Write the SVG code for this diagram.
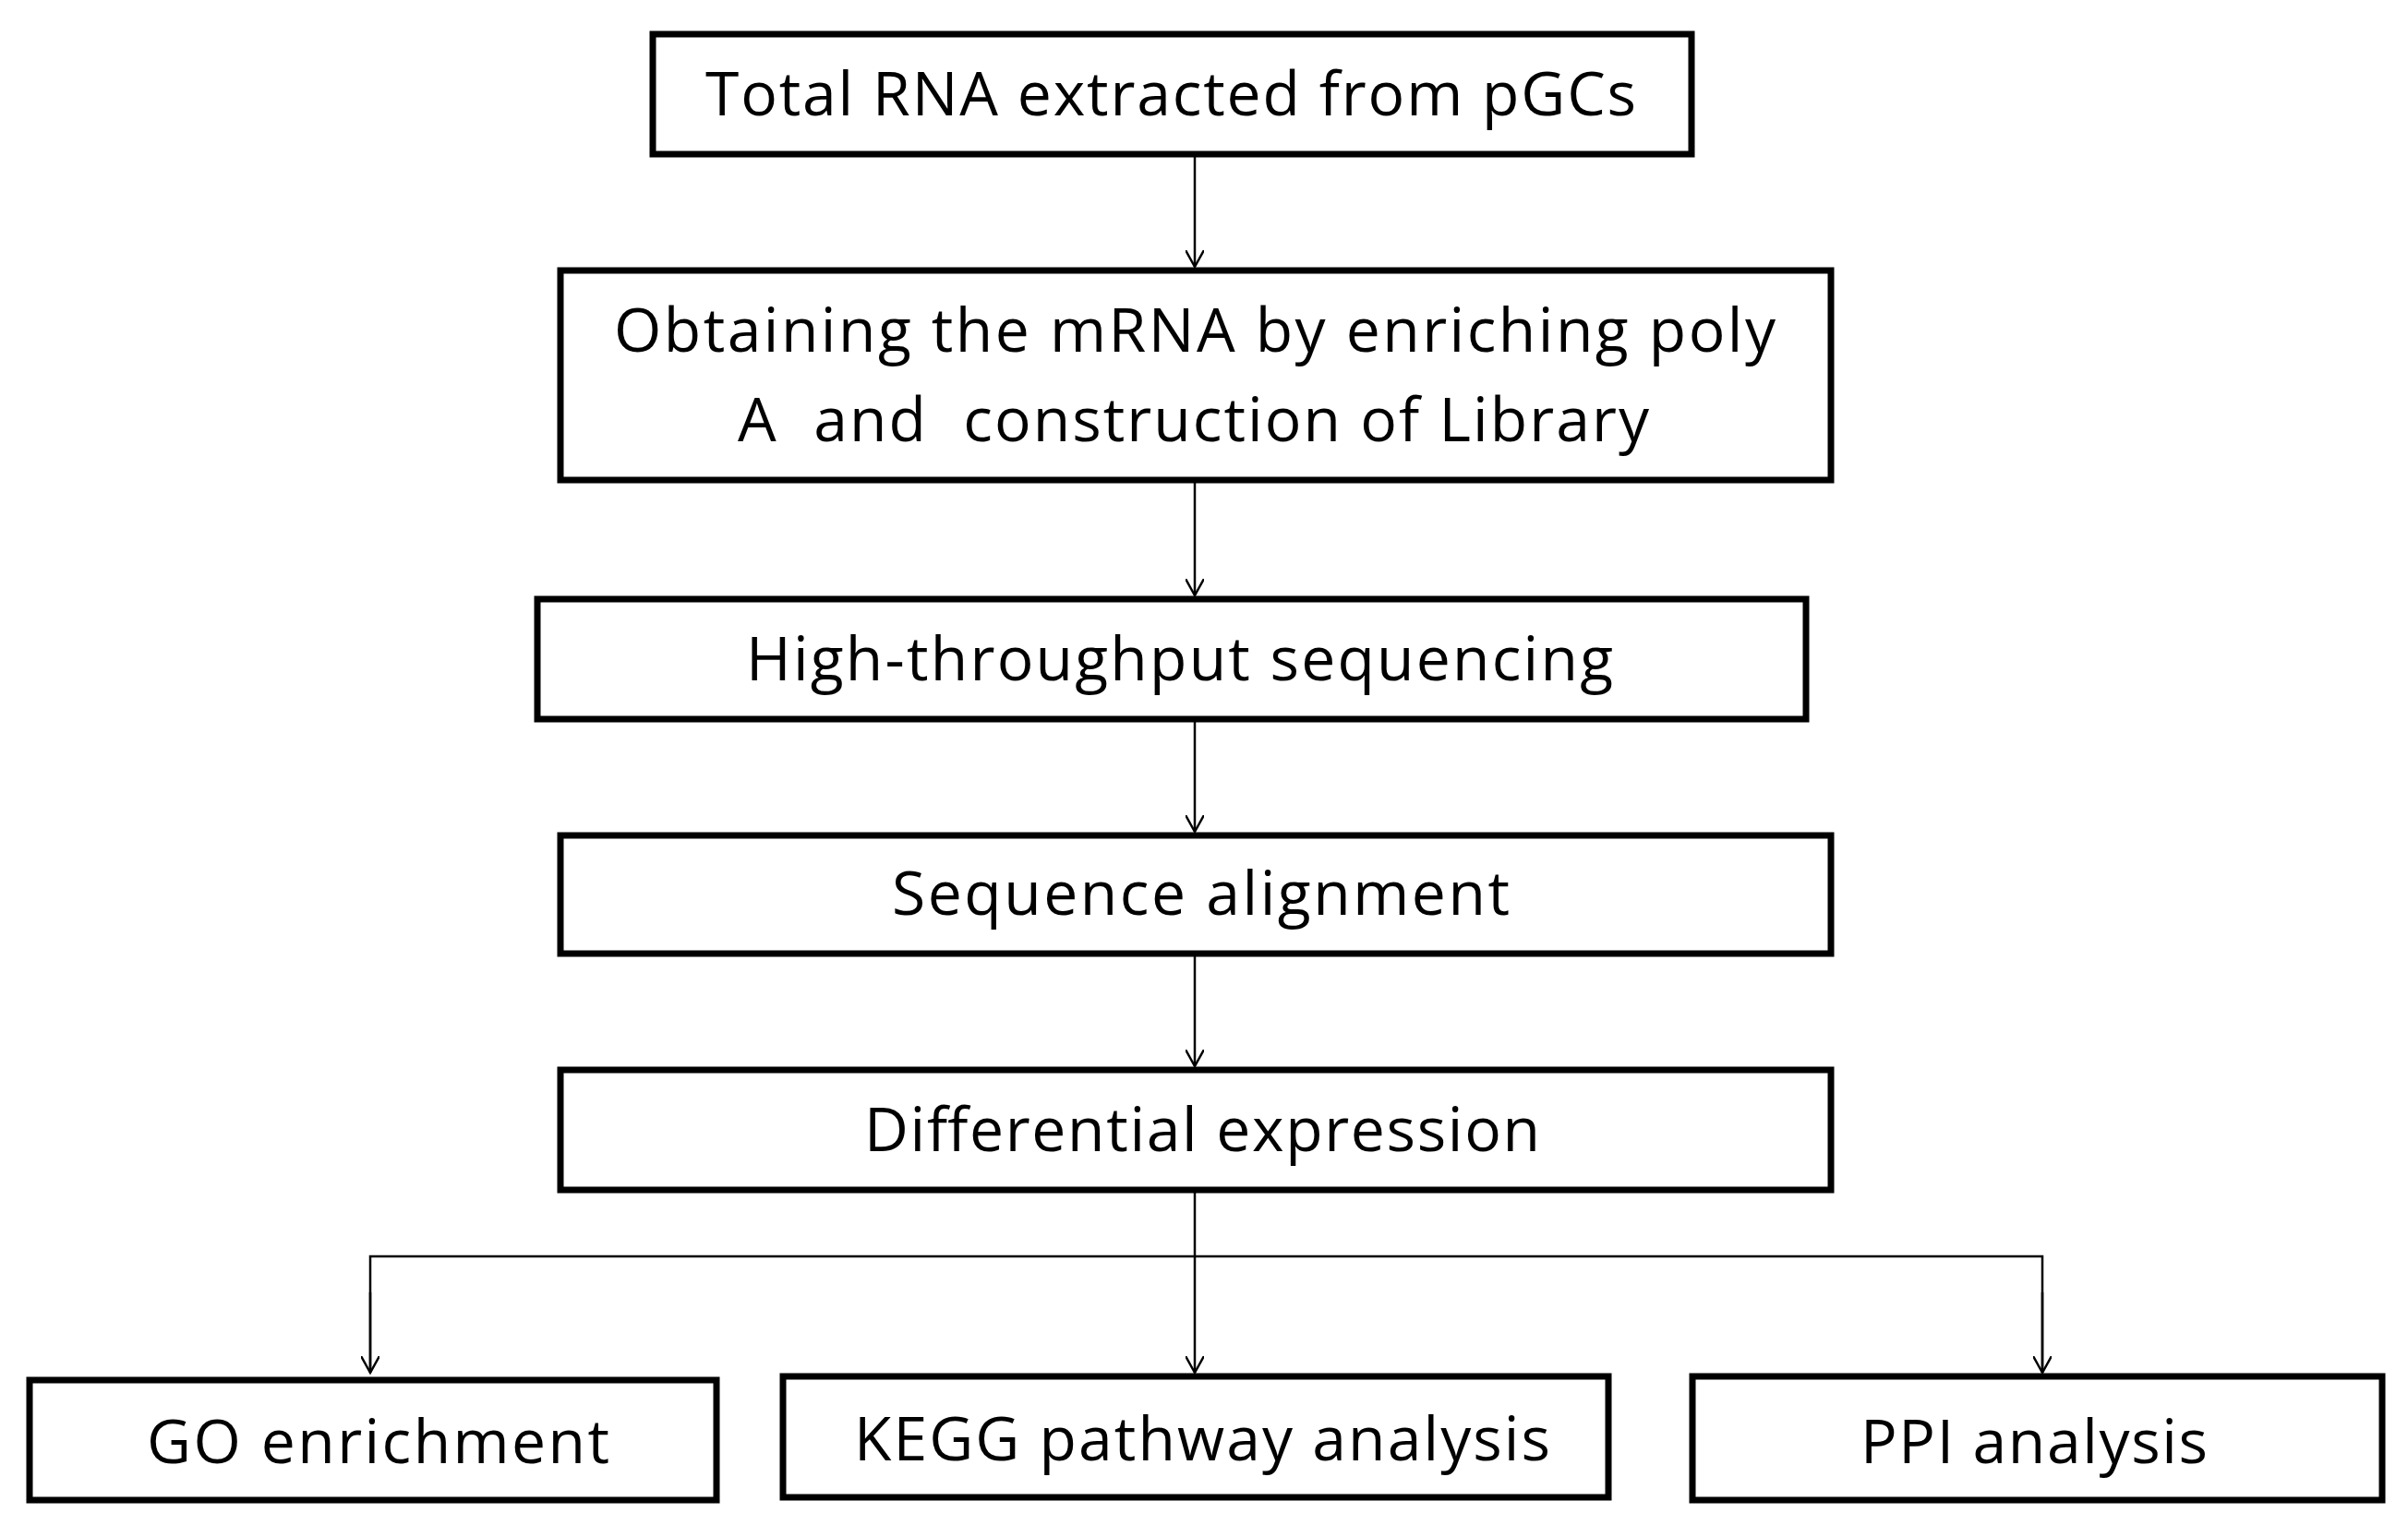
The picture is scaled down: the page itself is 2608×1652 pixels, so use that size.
<svg xmlns="http://www.w3.org/2000/svg" width="2608" height="1652" viewBox="0 0 2608 1652">
<style>
.b{fill:#fff;stroke:#000;stroke-width:7}
.t{font-family:"Open Sans","Liberation Sans",sans-serif;font-size:66px;fill:#000}
.c{fill:none;stroke:#000;stroke-width:2.5}
</style>
<defs><marker id="a" viewBox="0 0 20 20" refX="10" refY="18" markerWidth="20" markerHeight="20" markerUnits="userSpaceOnUse" orient="auto-start-reverse"><path d="M0,0 L10,18 L20,0" fill="none" stroke="#000" stroke-width="2.5"/></marker>
<marker id="d" viewBox="0 0 30 20" refX="18" refY="10" markerWidth="30" markerHeight="20" markerUnits="userSpaceOnUse" orient="auto"><path d="M0,0 L18,10 L0,20" fill="none" stroke="#000" stroke-width="2.5"/></marker></defs>
<rect width="2608" height="1652" fill="#fff"/>
<g id="connectors">
<line class="c" x1="1294" y1="167" x2="1294" y2="289" marker-end="url(#d)"/>
<line class="c" x1="1294" y1="520" x2="1294" y2="645" marker-end="url(#d)"/>
<line class="c" x1="1294" y1="779" x2="1294" y2="901" marker-end="url(#d)"/>
<line class="c" x1="1294" y1="1033" x2="1294" y2="1155" marker-end="url(#d)"/>
<line class="c" x1="1294" y1="1289" x2="1294" y2="1487" marker-end="url(#d)"/>
<path class="c" d="M401,1487 V1361 H2212 V1487" />
<line class="c" x1="401" y1="1400" x2="401" y2="1487" marker-end="url(#d)"/>
<line class="c" x1="2212" y1="1400" x2="2212" y2="1487" marker-end="url(#d)"/>
</g>
<g id="n1"><rect class="b" x="707" y="37" width="1125" height="130"/><text class="t" x="764" y="125" textLength="1008">Total RNA extracted from pGCs</text></g>
<g id="n2"><rect class="b" x="607" y="293" width="1376" height="227"/><text class="t" x="665" y="381" textLength="1258">Obtaining the mRNA by enriching poly</text><text class="t" x="799" y="478" textLength="987" xml:space="preserve">A  and  construction of Library</text></g>
<g id="n3"><rect class="b" x="582" y="649" width="1374" height="130"/><text class="t" x="808" y="737" textLength="939">High-throughput sequencing</text></g>
<g id="n4"><rect class="b" x="607" y="905" width="1376" height="128"/><text class="t" x="966" y="991" textLength="669">Sequence alignment</text></g>
<g id="n5"><rect class="b" x="607" y="1159" width="1376" height="130"/><text class="t" x="936" y="1247" textLength="732">Differential expression</text></g>
<g id="n6"><rect class="b" x="32" y="1495" width="744" height="130"/><text class="t" x="159" y="1585" textLength="501">GO enrichment</text></g>
<g id="n7"><rect class="b" x="848" y="1491" width="894" height="131"/><text class="t" x="925" y="1582" textLength="754">KEGG pathway analysis</text></g>
<g id="n8"><rect class="b" x="1833" y="1491" width="747" height="134"/><text class="t" x="2015" y="1585" textLength="376">PPI analysis</text></g>
</svg>
